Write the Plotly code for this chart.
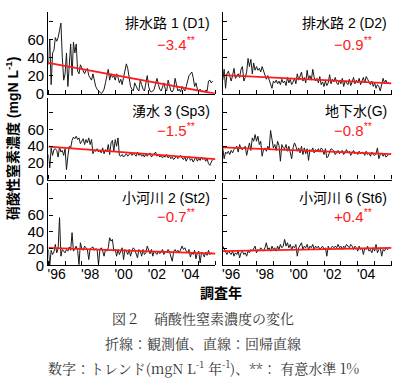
import plotly.graph_objects as go

# ---------------- data ----------------
START_YEAR = 1996
YEAR_BOUNDARIES = [1996, 1997, 1998, 1999, 2000, 2001, 2002, 2003, 2004, 2005, 2006]
X_LABEL_POS = [1996.5, 1998.5, 2000.5, 2002.5, 2004.5]
X_LABEL_TEXT = ["'96", "'98", "'00", "'02", "'04"]
Y_TICKS = [0, 20, 40, 60, 80]
Y_TICK_TEXT = ["0", "20", "40", "60", ""]

SITE_NAMES = ["排水路 1 (D1)", "排水路 2 (D2)", "湧水 3 (Sp3)",
              "地下水(G)", "小河川 2 (St2)", "小河川 6 (St6)"]
TREND_LABELS = ["−3.4", "−0.9", "−1.5", "−0.8", "−0.7", "+0.4"]
TREND_SLOPES = [-3.4, -0.9, -1.5, -0.8, -0.7, 0.4]
TREND_AT_START = [34, 20.5, 39.5, 38.5, 21, 17]

nitrate_D1 = [32, 60, 10, 45, 48, 62, 58, 62, 70, 78,
              40, 15, 22, 45, 8, 30, 55, 20, 57, 45,
              55, 25, 22, 32, 28, 25, 22, 26, 28, 20,
              18, 15, 22, 15, 8, 5, 3, 2, 0, 2,
              5, 12, 18, 27, 15, 22, 18, 20, 15, 22,
              18, 12, 16, 10, 18, 25, 33, 28, 15, 8,
              5, 3, 12, 8, 5, 3, 15, 10, 5, 3,
              12, 20, 8, 3, 2, 3, 5, 10, 17, 10,
              5, 3, 8, 12, 5, 3, 15, 8, 3, 2,
              5, 17, 8, 3, 5, 2, 8, 5, 3, 8,
              15, 20, 22, 24, 18, 8, 12, 5, 3, 5,
              2, 3, 2, 4, 3, 14, 15, 12, 14]
nitrate_D2 = [15, 27, 6, 22, 25, 18, 14, 20, 28, 17,
              20, 22, 18, 27, 30, 14, 18, 24, 39, 30,
              38, 22, 34, 26, 30, 26, 28, 24, 30, 26,
              22, 16, 20, 15, 12, 6, 14, 12, 15, 11,
              14, 10, 16, 12, 14, 9, 18, 12, 16, 10,
              13, 17, 11, 22, 15, 19, 24, 14, 18, 12,
              26, 16, 20, 15, 27, 18, 14, 17, 12, 19,
              10, 13, 8, 14, 9, 12, 21, 11, 16, 13,
              18, 12, 10, 15, 11, 17, 8, 14, 12, 10,
              16, 9, 13, 18, 11, 15, 12, 17, 10, 14,
              18, 12, 19, 16, 13, 10, 14, 8, 12, 6,
              10, 8, 3, 11, 17, 12, 15, 11, 13]
nitrate_Sp3 = [30, 14, 38, 29, 36, 37, 35, 27, 39, 33,
               35, 29, 37, 12, 28, 40, 38, 47, 51, 49,
               52, 48, 50, 43, 46, 49, 42, 48, 44, 50,
               42, 48, 31, 35, 34, 37, 33, 35, 32, 38,
               31, 36, 33, 42, 30, 44, 47, 34, 48, 40,
               50, 29, 28, 30, 27, 29, 31, 28, 30, 32,
               29, 31, 30, 28, 33, 29, 31, 28, 30, 27,
               31, 28, 30, 32, 27, 29, 31, 33, 28, 30,
               27, 29, 26, 28, 27, 30, 26, 28, 25, 27,
               24, 26, 28, 25, 27, 29, 26, 24, 27, 22,
               26, 28, 23, 25, 21, 24, 27, 22, 25, 23,
               27, 24, 26, 22, 25, 19, 17, 21, 24]
nitrate_G = [38, 25, 33, 31, 34, 30, 35, 32, 36, 38,
             40, 33, 42, 37, 36, 38, 40, 29, 37, 44,
             35, 50, 46, 54, 46, 52, 42, 46, 28, 36,
             38, 34, 40, 36, 59, 50, 38, 42, 35, 46,
             41, 22, 42, 38, 37, 42, 34, 40, 33, 25,
             38, 44, 40, 34, 38, 32, 40, 30, 38, 31,
             37, 23, 36, 34, 38, 32, 36, 34, 37, 33,
             38, 36, 30, 37, 26, 28, 33, 37, 36, 34,
             30, 33, 35, 31, 33, 35, 30, 34, 36, 32,
             34, 29, 33, 35, 31, 33, 30, 34, 31, 33,
             32, 29, 34, 30, 32, 28, 33, 30, 29, 31,
             38, 25, 30, 32, 28, 31, 27, 29, 30]
nitrate_St2 = [19, 0, 18, 13, 16, 25, 15, 20, 57, 11,
               19, 17, 15, 19, 17, 22, 18, 39, 17, 20,
               23, 18, 1, 27, 20, 18, 23, 21, 19, 7,
               20, 21, 22, 18, 20, 19, 1, 19, 21, 17,
               11, 19, 17, 21, 33, 29, 31, 17, 19, 11,
               19, 13, 17, 21, 7, 19, 17, 13, 19, 11,
               17, 21, 19, 14, 9, 19, 17, 11, 19, 13,
               15, 23, 17, 14, 19, 11, 17, 15, 13, 17,
               14, 16, 19, 13, 17, 15, 19, 16, 11, 5,
               17, 19, 16, 18, 15, 20, 23, 19, 21, 17,
               15, 19, 10, 16, 13, 18, 8, 15, 17, 3,
               16, 14, 10, 16, 12, 18, 13, 15, 14]
nitrate_St6 = [23, 20, 17, 13, 17, 15, 13, 17, 11, 15,
               13, 17, 9, 15, 17, 13, 15, 11, 17, 15,
               19, 17, 21, 23, 15, 19, 17, 21, 19, 17,
               21, 27, 19, 21, 17, 23, 19, 21, 17, 23,
               19, 25, 21, 23, 31, 23, 27, 21, 25, 19,
               23, 21, 25, 11, 21, 25, 27, 19, 23, 21,
               25, 19, 23, 21, 25, 19, 23, 21, 23, 19,
               21, 23, 19, 21, 11, 23, 19, 21, 23, 21,
               23, 21, 25, 21, 23, 19, 23, 21, 25, 23,
               21, 25, 23, 19, 23, 21, 17, 23, 19, 21,
               13, 21, 19, 23, 17, 19, 15, 21, 17, 25,
               15, 19, 21, 11, 19, 17, 21, 19, 20]

SERIES = [nitrate_D1, nitrate_D2, nitrate_Sp3, nitrate_G, nitrate_St2, nitrate_St6]

# ---------------- layout geometry (pixels) ----------------
W, H = 399, 389
COL_X = [(47.5, 215.0), (222.3, 391.5)]
ROW_Y = [(12.5, 95.7), (100.0, 183.3), (187.0, 271.0)]
Y_MAX = [90, 98, 98]
TITLE_Y = [23.0, 113.5, 202.5]
RED_Y = [44.0, 132.5, 220.0]
RED_X_OFF = [128, 131]

LAT = "Liberation Sans, Arial, Noto Sans CJK JP, sans-serif"
CJK = "Noto Sans CJK JP, sans-serif"


def px(x):
    return x / W


def py(y):
    return 1 - y / H


fig = go.Figure()
annotations = []
layout = {}

for k, (vals, name, lab, slope, b0) in enumerate(
        zip(SERIES, SITE_NAMES, TREND_LABELS, TREND_SLOPES, TREND_AT_START)):
    row, col = divmod(k, 2)
    n = k + 1
    xa = "x" if n == 1 else f"x{n}"
    ya = "y" if n == 1 else f"y{n}"
    years = [START_YEAR + i / 12 for i in range(len(vals))]
    fig.add_trace(go.Scatter(x=years, y=vals, mode="lines",
                             line=dict(color="#1a1a1a", width=1),
                             xaxis=xa, yaxis=ya, showlegend=False,
                             hoverinfo="skip"))
    tx = [YEAR_BOUNDARIES[0], YEAR_BOUNDARIES[-1]]
    ty = [b0 + slope * (t - START_YEAR) for t in tx]
    fig.add_trace(go.Scatter(x=tx, y=ty, mode="lines",
                             line=dict(color="#ff1a1a", width=1.8),
                             xaxis=xa, yaxis=ya, showlegend=False,
                             hoverinfo="skip"))

    x0, x1 = COL_X[col]
    y0, y1 = ROW_Y[row]
    bottom = row == 2
    xkey = "xaxis" if n == 1 else f"xaxis{n}"
    ykey = "yaxis" if n == 1 else f"yaxis{n}"
    layout[xkey] = dict(
        domain=[px(x0), px(x1)], anchor=ya,
        range=[YEAR_BOUNDARIES[0], YEAR_BOUNDARIES[-1]],
        tickmode="array", tickvals=X_LABEL_POS,
        ticktext=X_LABEL_TEXT if bottom else [""] * len(X_LABEL_POS),
        showticklabels=bottom, ticks="", ticklabelstandoff=-4,
        minor=dict(tickmode="array", tickvals=YEAR_BOUNDARIES, ticks="inside",
                   ticklen=4, tickwidth=1, tickcolor="black"),
        showline=True, linecolor="black", linewidth=1.4,
        showgrid=False, zeroline=False,
        tickfont=dict(family=LAT, size=14, color="black"),
    )
    layout[ykey] = dict(
        domain=[py(y1), py(y0)], anchor=xa,
        range=[0, Y_MAX[row]],
        tickmode="array", tickvals=Y_TICKS, ticktext=Y_TICK_TEXT,
        showticklabels=(col == 0), ticks="inside", ticklen=4, tickwidth=1,
        tickcolor="black",
        showline=True, linecolor="black", linewidth=1.4,
        showgrid=False, zeroline=False,
        tickfont=dict(family=LAT, size=15, color="black"),
    )
    annotations.append(dict(
        text=name, x=px(x1 - 3), y=py(TITLE_Y[row]), xref="paper", yref="paper",
        xanchor="right", yanchor="middle", showarrow=False,
        font=dict(family=LAT, size=14, color="black")))
    annotations.append(dict(
        text=f"{lab}<sup>**</sup>", x=px(x0 + RED_X_OFF[col]), y=py(RED_Y[row]),
        xref="paper", yref="paper", xanchor="center", yanchor="middle",
        showarrow=False, font=dict(family=LAT, size=15, color="#ff1a1a")))

annotations.append(dict(
    text="硝酸性窒素濃度 (mgN L<sup>-1</sup>)", textangle=-90,
    x=px(11), y=py(141), xref="paper", yref="paper",
    xanchor="center", yanchor="middle", showarrow=False,
    font=dict(family=LAT, size=14, color="black", weight="bold")))
annotations.append(dict(
    text="調査年", x=px(221), y=py(298), xref="paper", yref="paper",
    xanchor="center", yanchor="middle", showarrow=False,
    font=dict(family=CJK, size=14, color="black", weight="bold")))

CAPTIONS = ["図２　硝酸性窒素濃度の変化",
            "折線：観測値、直線：回帰直線",
            "数字：トレンド(mgN L<sup>-1</sup> 年<sup>-1</sup>)、**： 有意水準 1%"]
CAP_Y = [325, 350, 375]
for txt, cy in zip(CAPTIONS, CAP_Y):
    annotations.append(dict(
        text=txt, x=px(203), y=py(cy), xref="paper", yref="paper",
        xanchor="center", yanchor="middle", showarrow=False,
        font=dict(family="Noto Serif CJK JP, serif", size=14, color="#333333")))

fig.update_layout(
    width=W, height=H, margin=dict(l=0, r=0, t=0, b=0),
    paper_bgcolor="white", plot_bgcolor="white",
    annotations=annotations, **layout)

fig.write_html("out.html",
               config={"displayModeBar": False},
               post_script="document.body.style.margin='0';"
                           "document.body.style.overflow='hidden';")
